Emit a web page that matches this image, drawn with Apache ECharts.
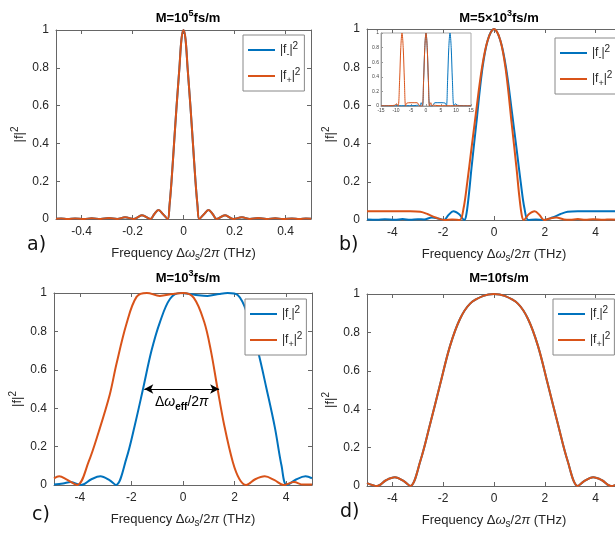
<!DOCTYPE html>
<html>
<head>
<meta charset="utf-8">
<title>ECharts</title>
<script src="https://cdn.jsdelivr.net/npm/echarts@6/dist/echarts.min.js"></script>
<style>
  html, body { margin: 0; padding: 0; background: #fff; overflow: hidden; }
  #main { width: 630px; height: 534px; }
</style>
</head>
<body>
<div id="main"></div>
<script>
// values, [x, |f|^2]
const aCurve = [
  [-0.5, 0.001], [-0.48, 0.003], [-0.455, 0], [-0.425, 0.003], [-0.39, 0], [-0.36, 0.004], [-0.325, 0],
  [-0.293, 0.005], [-0.26, 0], [-0.229, 0.009], [-0.195, 0], [-0.163, 0.02], [-0.13, 0], [-0.115, 0.025],
  [-0.098, 0.048], [-0.08, 0.025], [-0.062, 0], [-0.055, 0.07], [-0.047, 0.2], [-0.037, 0.4], [-0.027, 0.6],
  [-0.016, 0.8], [-0.008, 0.95], [0, 1], [0.008, 0.95], [0.016, 0.8], [0.027, 0.6], [0.037, 0.4], [0.047, 0.2],
  [0.055, 0.07], [0.062, 0], [0.08, 0.025], [0.098, 0.048], [0.115, 0.025], [0.13, 0], [0.163, 0.02], [0.195, 0],
  [0.229, 0.009], [0.26, 0], [0.293, 0.005], [0.325, 0], [0.36, 0.004], [0.39, 0], [0.425, 0.003], [0.455, 0],
  [0.48, 0.003], [0.5, 0.001]
]
const bPlus = [
  [-5, 0.046], [-4, 0.046], [-3.3, 0.046], [-2.9, 0.043], [-2.6, 0.03], [-2.3, 0.013], [-1.95, 0], [-1.65, 0.003],
  [-1.35, 0], [-1.2, 0.06], [-1.05, 0.2], [-0.9, 0.36], [-0.72, 0.55], [-0.47, 0.8], [-0.25, 0.94], [0, 1],
  [0.25, 0.94], [0.47, 0.78], [0.7, 0.5], [0.88, 0.28], [1.0, 0.12], [1.1, 0.02], [1.17, 0], [1.37, 0.03],
  [1.6, 0.046], [1.8, 0.025], [1.97, 0], [2.2, 0.008], [2.45, 0.013], [2.75, 0.003], [3, 0.001], [3.3, 0.005],
  [3.6, 0.001], [3.9, 0.004], [4.3, 0.001], [4.6, 0.003], [5, 0.001]
]
const bMinus = [
  [-5, 0.003], [-4.6, 0.001], [-4.3, 0.004], [-3.9, 0.001], [-3.6, 0.005], [-3.3, 0.001], [-3, 0.004],
  [-2.75, 0.003], [-2.45, 0.013], [-2.2, 0.008], [-1.97, 0], [-1.8, 0.025], [-1.6, 0.046], [-1.37, 0.03],
  [-1.17, 0], [-1.1, 0.02], [-1.0, 0.12], [-0.88, 0.28], [-0.7, 0.5], [-0.47, 0.78], [-0.25, 0.94], [0, 1],
  [0.25, 0.94], [0.47, 0.8], [0.72, 0.55], [0.9, 0.36], [1.05, 0.2], [1.2, 0.06], [1.35, 0], [1.65, 0.003],
  [1.95, 0], [2.3, 0.013], [2.6, 0.03], [2.9, 0.043], [3.3, 0.046], [4, 0.046], [5, 0.046]
]
const insetPlus = [
  [-15, 0.003], [-12, 0.005], [-10.5, 0.01], [-9.8, 0.03], [-9.3, 0], [-8.8, 0.35], [-8.4, 0.8], [-8, 1],
  [-7.6, 0.8], [-7.2, 0.35], [-6.8, 0], [-6.4, 0.04], [-5, 0.045], [-3, 0.045], [-2, 0], [-1.3, 0],
  [-0.8, 0.35], [-0.4, 0.8], [0, 1], [0.4, 0.8], [0.8, 0.35], [1.15, 0], [1.6, 0.045], [2, 0], [2.5, 0.012],
  [4, 0.005], [15, 0.003]
]
const insetMinus = [
  [-15, 0.003], [-4, 0.005], [-2.5, 0.012], [-2, 0], [-1.6, 0.045], [-1.15, 0], [-0.8, 0.35], [-0.4, 0.8],
  [0, 1], [0.4, 0.8], [0.8, 0.35], [1.3, 0], [2, 0], [3, 0.045], [5, 0.045], [6.4, 0.04], [6.8, 0],
  [7.2, 0.35], [7.6, 0.8], [8, 1], [8.4, 0.8], [8.8, 0.35], [9.3, 0], [9.8, 0.03], [10.5, 0.01], [12, 0.005],
  [15, 0.003]
]
const cPlus = [
  [-5, 0.035], [-4.8, 0.045], [-4.5, 0.028], [-4.1, 0], [-3.66, 0.12], [-3.26, 0.28], [-2.84, 0.47],
  [-2.58, 0.63], [-2.19, 0.84], [-1.8, 0.98], [-1.4, 1.0], [-0.9, 0.985], [-0.4, 0.995], [0, 1.0],
  [0.42, 0.975], [0.82, 0.85], [1.08, 0.7], [1.34, 0.5], [1.6, 0.31], [1.93, 0.12], [2.19, 0.03], [2.45, 0],
  [2.8, 0.03], [3.17, 0.045], [3.55, 0.025], [3.9, 0], [4.3, 0.015], [4.65, 0.002], [5, 0.003]
]
const cMinus = [
  [-5, 0.003], [-4.65, 0.008], [-4.35, 0.015], [-3.95, 0], [-3.55, 0.03], [-3.2, 0.045], [-2.85, 0.025],
  [-2.6, 0], [-2.19, 0.14], [-1.87, 0.31], [-1.55, 0.5], [-1.22, 0.7], [-0.89, 0.85], [-0.5, 0.97],
  [-0.1, 1.0], [0.5, 0.99], [0.95, 0.985], [1.4, 0.995], [1.73, 1.0], [2.12, 0.99], [2.5, 0.89], [2.9, 0.7],
  [3.24, 0.5], [3.56, 0.3], [3.82, 0.1], [4.02, 0], [4.4, 0.03], [4.75, 0.045], [5, 0.035]
]
const dCurve = [
  [-5, 0.015], [-4.6, 0], [-4.25, 0.03], [-3.9, 0.045], [-3.55, 0.025], [-3.3, 0], [-2.9, 0.13], [-2.52, 0.32],
  [-2.12, 0.53], [-1.73, 0.73], [-1.34, 0.87], [-0.94, 0.95], [-0.42, 0.99], [0, 1], [0.42, 0.99], [0.94, 0.95],
  [1.34, 0.87], [1.73, 0.73], [2.12, 0.53], [2.52, 0.32], [2.9, 0.13], [3.3, 0], [3.55, 0.025], [3.9, 0.045],
  [4.25, 0.03], [4.6, 0], [5, 0.015]
]
const arrowEnds = [[-1.5, 0.5], [1.4, 0.5]]

const aTicks = [-0.4, -0.2, 0, 0.2, 0.4]
const wideTicks = [-4, -2, 0, 2, 4]
const titles = ['M=10{sup|5}fs/m', 'M=5\u00d710{sup|3}fs/m', 'M=10{sup|3}fs/m', 'M=10fs/m']
const panelLetters = ['a)', 'b)', 'c)', 'd)']

const blue = '#0072BD'
const orange = '#D95319'
const font = 'Liberation Sans, Arial, sans-serif'

const grids = [
  { left: 56, top: 30, width: 255, height: 189 },
  { left: 367, top: 29, width: 254, height: 191 },
  { left: 54, top: 293, width: 258, height: 192 },
  { left: 367, top: 294, width: 254, height: 192 },
  { left: 381, top: 33, width: 90, height: 73, show: true, backgroundColor: '#fff', borderColor: '#aaa', borderWidth: 1 },
]
const ranges = [[-0.5, 0.5, aTicks], [-5, 5, wideTicks], [-5, 5, wideTicks], [-5, 5, wideTicks]]

const lineCol = '#666'
const subRich = {
  sub: { fontSize: 10, verticalAlign: 'bottom', lineHeight: 8, fontFamily: font, color: '#262626' },
  sup: { fontSize: 10, verticalAlign: 'top', lineHeight: 8, fontFamily: font, color: '#262626' },
  it: { fontStyle: 'italic', fontSize: 13, fontFamily: font, color: '#262626' },
}

let xAxes = [], yAxes = []
ranges.forEach(([mn, mx, ticks], i) => {
  const base = {
    gridIndex: i, type: 'value', min: mn, max: mx,
    axisLine: { onZero: false, lineStyle: { color: lineCol, width: 1 } },
    axisTick: { inside: true, length: 4, customValues: ticks, lineStyle: { color: lineCol } },
    splitLine: { show: false },
  }
  xAxes.push(Object.assign({}, base, {
    position: 'bottom',
    axisLabel: { customValues: ticks, fontSize: 12, color: '#262626', fontFamily: font, margin: 7 },
    name: 'Frequency \u0394{it|\u03c9}{sub|s}/2{it|\u03c0} (THz)',
    nameLocation: 'middle', nameGap: 25,
    nameTextStyle: { fontSize: 13, color: '#262626', fontFamily: font, lineHeight: 18, rich: subRich },
  }))
  xAxes.push(Object.assign({}, base, { position: 'top', axisLabel: { show: false } }))
  const ybase = {
    gridIndex: i, type: 'value', min: 0, max: 1, interval: 0.2,
    axisLine: { onZero: false, lineStyle: { color: lineCol, width: 1 } },
    axisTick: { inside: true, length: 4, lineStyle: { color: lineCol } },
    splitLine: { show: false },
  }
  yAxes.push(Object.assign({}, ybase, {
    position: 'left',
    axisLabel: { fontSize: 12, color: '#262626', fontFamily: font, margin: 7 },
    name: '|f|{sup|2}', nameLocation: 'middle', nameGap: 25, nameRotate: 90,
    nameTextStyle: { fontSize: 13, color: '#262626', fontFamily: font, lineHeight: 18, rich: subRich, padding: [0, 20, 0, 0] },
  }))
  yAxes.push(Object.assign({}, ybase, { position: 'right', axisLabel: { show: false } }))
})
// inset axes
xAxes.push({
  gridIndex: 4, type: 'value', min: -15, max: 15, interval: 5,
  axisLine: { onZero: false, lineStyle: { color: '#999' } },
  axisTick: { inside: true, length: 2, lineStyle: { color: '#999' } },
  axisLabel: { fontSize: 5, color: '#444', margin: 2 },
  splitLine: { show: false },
})
yAxes.push({
  gridIndex: 4, type: 'value', min: 0, max: 1, interval: 0.2,
  axisLine: { onZero: false, lineStyle: { color: '#999' } },
  axisTick: { inside: true, length: 2, lineStyle: { color: '#999' } },
  axisLabel: { fontSize: 5, color: '#444', margin: 2 },
  splitLine: { show: false },
})

function line(name, data, axisIdx, color, width, extra) {
  return Object.assign({
    type: 'line', name, data, xAxisIndex: axisIdx, yAxisIndex: axisIdx,
    showSymbol: false, smooth: 0.35, silent: true,
    lineStyle: { width: width, color }, itemStyle: { color },
  }, extra || {})
}

const series = [
  line('fm', aCurve, 0, blue, 2),
  line('fp', aCurve, 0, orange, 2),
  line('fm', bMinus, 2, blue, 2),
  line('fp', bPlus, 2, orange, 2),
  line('fm', cMinus, 4, blue, 2),
  line('fp', cPlus, 4, orange, 2, {
    markLine: {
      silent: true, symbol: ['arrow', 'arrow'], symbolSize: [7, 9],
      lineStyle: { color: '#000', width: 1, type: 'solid' },
      label: {
        show: true, position: 'insideMiddleBottom', distance: 3,
        formatter: '\u0394{it|\u03c9}{eff|eff}/2{it|\u03c0}',
        color: '#000', fontSize: 14, fontFamily: font, lineHeight: 20,
        rich: {
          it: { fontStyle: 'italic', fontSize: 14, color: '#000', fontFamily: font },
          eff: { fontSize: 10, fontWeight: 'bold', verticalAlign: 'bottom', lineHeight: 8, color: '#000', fontFamily: font },
        },
      },
      data: [[{ coord: arrowEnds[0] }, { coord: arrowEnds[1] }]],
    },
  }),
  line('fm', dCurve, 6, blue, 2),
  line('fp', dCurve, 6, orange, 2),
  line('fm', insetMinus, 8, blue, 1),
  line('fp', insetPlus, 8, orange, 1),
]

const legendPos = [[243, 35], [555, 38], [245, 299], [553, 299]]
const legends = legendPos.map(([l, t]) => ({
  data: ['fm', 'fp'], left: l, top: t, orient: 'vertical',
  icon: 'rect', itemWidth: 27, itemHeight: 2, itemGap: 8,
  padding: [6, 4, 6, 5], borderColor: '#888', borderWidth: 1, backgroundColor: '#fff',
  selectedMode: false,
  formatter: (n) => n === 'fm' ? '|f{sub|-}|{sup|2}' : '|f{sub|+}|{sup|2}',
  textStyle: {
    fontSize: 12, color: '#262626', fontFamily: font, lineHeight: 18,
    rich: {
      sub: { fontSize: 9, verticalAlign: 'bottom', lineHeight: 8, color: '#262626', fontFamily: font },
      sup: { fontSize: 10, verticalAlign: 'top', lineHeight: 8, color: '#262626', fontFamily: font },
    },
  },
}))

const titleCenters = [[183, 4], [494, 4], [183, 264], [494, 264]]
const letterPos = [[22, 231], [334, 231], [27, 501], [335, 498]]
const titleList = titles.map((t, i) => ({
  text: t, left: titleCenters[i][0], top: titleCenters[i][1], textAlign: 'center',
  textStyle: {
    fontSize: 13, fontWeight: 'bold', color: '#000', fontFamily: font, lineHeight: 18,
    rich: { sup: { fontSize: 9, fontWeight: 'bold', verticalAlign: 'top', lineHeight: 8, color: '#000', fontFamily: font } },
  },
})).concat(panelLetters.map((t, i) => ({
  text: t, left: letterPos[i][0], top: letterPos[i][1],
  textStyle: { fontSize: 19, fontWeight: 'normal', color: '#111', fontFamily: 'DejaVu Sans, sans-serif' },
})))

const myChart = echarts.init(document.getElementById('main'), null, { renderer: 'canvas' })
myChart.setOption({
  animation: false,
  backgroundColor: '#fff',
  title: titleList,
  grid: grids,
  xAxis: xAxes,
  yAxis: yAxes,
  legend: legends,
  series: series,
})
</script>
</body>
</html>
